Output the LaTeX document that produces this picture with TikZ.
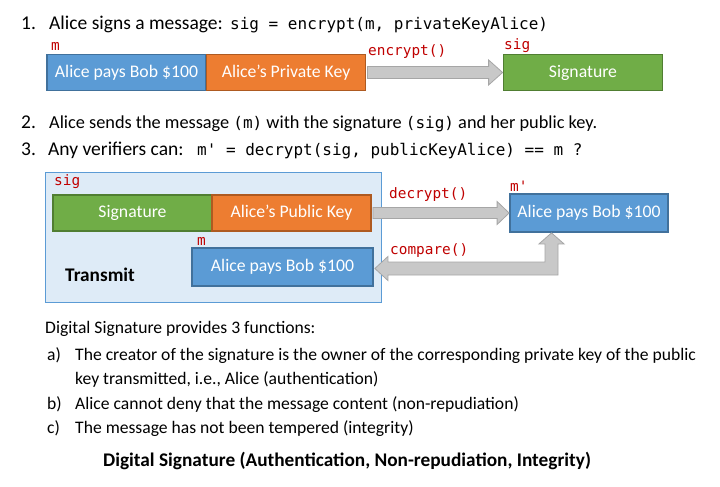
\documentclass[tikz,border=0pt]{standalone}
\usepackage{fontspec}
\setmainfont{Carlito}
\newfontfamily\monofnt{DejaVu Sans Mono}
\usetikzlibrary{calc}
\definecolor{bfill}{HTML}{5B9BD5}
\definecolor{bline}{HTML}{41719C}
\definecolor{ofill}{HTML}{ED7D31}
\definecolor{oline}{HTML}{AE5A21}
\definecolor{gfill}{HTML}{70AD47}
\definecolor{gline}{HTML}{507E32}
\definecolor{tfill}{HTML}{DEEBF7}
\definecolor{tline}{HTML}{5B9BD5}
\definecolor{lred}{HTML}{C00000}
\definecolor{afill}{HTML}{C8C8C8}
\definecolor{aline}{HTML}{A6A6A6}
\newcommand{\mtx}[1]{{\monofnt\fontsize{16}{19}\selectfont #1}}
\tikzset{
  boxbase/.style={draw, line width=1.8pt, minimum width=159pt, minimum height=36pt, inner sep=0pt, text=white, font=\fontsize{17.7}{20}\selectfont},
  bluebox/.style={boxbase, fill=bfill, draw=bline},
  orangebox/.style={boxbase, fill=ofill, draw=oline},
  greenbox/.style={boxbase, fill=gfill, draw=gline},
  redlbl/.style={text=lred, font=\monofnt\fontsize{14.4}{16}\selectfont, inner sep=0pt, anchor=west},
  bodytxt/.style={font=\fontsize{19.5}{22}\selectfont, inner sep=0pt, anchor=base west},
  listtxt/.style={font=\fontsize{17.6}{20}\selectfont, inner sep=0pt, anchor=base west},
  garrow/.style={fill=afill, draw=aline, line width=0.8pt, line join=miter},
}
\begin{document}
\begin{tikzpicture}[x=1pt,y=-1pt]
\useasboundingbox[fill=white] (0,0) rectangle (720,487);
% line 1
\node[bodytxt] (n1) at (21,30) {1.};
\node[bodytxt] (t1) at (49,30) {Alice signs a message:};
\node[bodytxt] (c1) at (230,30) {\mtx{sig = encrypt(m, privateKeyAlice)}};
% top row
\node[bluebox] (msg) at (126.5,72.5) {Alice pays Bob \$100};
\node[orangebox] (prv) at (286,72.5) {Alice’s Private Key};
\node[greenbox] (sig) at (583,72.5) {Signature};
\node[redlbl] (lm1) at (51,46) {m};
\node[redlbl] (lsig1) at (504,46) {sig};
\node[redlbl] (lenc) at (368,52) {encrypt()};
\draw[garrow] ($(prv.east)+(1,-6)$) -- ($(sig.west)+(-14,-6)$) -- ($(sig.west)+(-14,-12.5)$) -- (sig.west) -- ($(sig.west)+(-14,12.5)$) -- ($(sig.west)+(-14,6)$) -- ($(prv.east)+(1,6)$) -- cycle;
% lines 2,3
\node[bodytxt] (n2) at (21,128) {2.};
\node[bodytxt, font=\fontsize{18.3}{22}\selectfont] (t2) at (49,128) {Alice sends the message \mtx{(m)} with the signature \mtx{(sig)} and her public key.};
\node[bodytxt] (n3) at (21,155) {3.};
\node[bodytxt] (t3) at (48,155) {Any verifiers can:};
\node[bodytxt] (c3) at (197,155) {\mtx{m' = decrypt(sig, publicKeyAlice) == m ?}};
% transmit box
\node[draw=tline, fill=tfill, line width=1pt, minimum width=336pt, minimum height=130pt, inner sep=0pt] (tr) at (213,237) {};
\node[font=\bfseries\fontsize{19.3}{22}\selectfont, inner sep=0pt, anchor=west] (trl) at (65,275) {Transmit};
\node[greenbox] (sig2) at (132.5,213) {Signature};
\node[orangebox] (pub) at (291.5,213) {Alice’s Public Key};
\node[bluebox, minimum width=181pt, minimum height=38pt] (m2) at (282.5,267) {Alice pays Bob \$100};
\node[redlbl] (lsig2) at (54,182) {sig};
\node[redlbl] (lm2) at (197,241) {m};
% m' box
\node[bluebox, minimum width=158pt, minimum height=38pt] (mp) at (589,213) {Alice pays Bob \$100};
\node[redlbl] (lmp) at (510,186) {m'};
\node[redlbl] (ldec) at (389,195) {decrypt()};
\node[redlbl] (lcmp) at (390,251) {compare()};
\draw[garrow] ($(pub.east)+(1,-5.5)$) -- ($(mp.west)+(-12,-5.5)$) -- ($(mp.west)+(-12,-11.5)$) -- (mp.west) -- ($(mp.west)+(-12,11.5)$) -- ($(mp.west)+(-12,5.5)$) -- ($(pub.east)+(1,5.5)$) -- cycle;
\coordinate (L) at ($(m2.east)+(1,1.5)$);
\coordinate (T) at ($(mp.south)+(-37.5,0)$);
\draw[garrow] (L) -- ($(L)+(13,-12)$) -- ($(L)+(13,-6.5)$) -- ($(T|-L)+(-6.5,-6.5)$) -- ($(T)+(-6.5,11)$) -- ($(T)+(-12.5,11)$) -- (T) -- ($(T)+(12.5,11)$) -- ($(T)+(6.5,11)$) -- ($(T|-L)+(6.5,6.5)$) -- ($(L)+(13,6.5)$) -- ($(L)+(13,12)$) -- cycle;
% bottom text
\node[listtxt] (b0) at (45,333) {Digital Signature provides 3 functions:};
\node[listtxt] (ba) at (47,360) {a)};
\node[listtxt] (bat) at (75,360) {The creator of the signature is the owner of the corresponding private key of the public};
\node[listtxt] (bat2) at (75,384) {key transmitted, i.e., Alice (authentication)};
\node[listtxt] (bb) at (47,409) {b)};
\node[listtxt] (bbt) at (75,409) {Alice cannot deny that the message content (non-repudiation)};
\node[listtxt] (bc) at (47,433) {c)};
\node[listtxt] (bct) at (75,433) {The message has not been tempered (integrity)};
\node[font=\bfseries\fontsize{19.3}{22}\selectfont, inner sep=0pt, anchor=base] (ttl) at (347,466) {Digital Signature (Authentication, Non-repudiation, Integrity)};
\end{tikzpicture}
\end{document}
